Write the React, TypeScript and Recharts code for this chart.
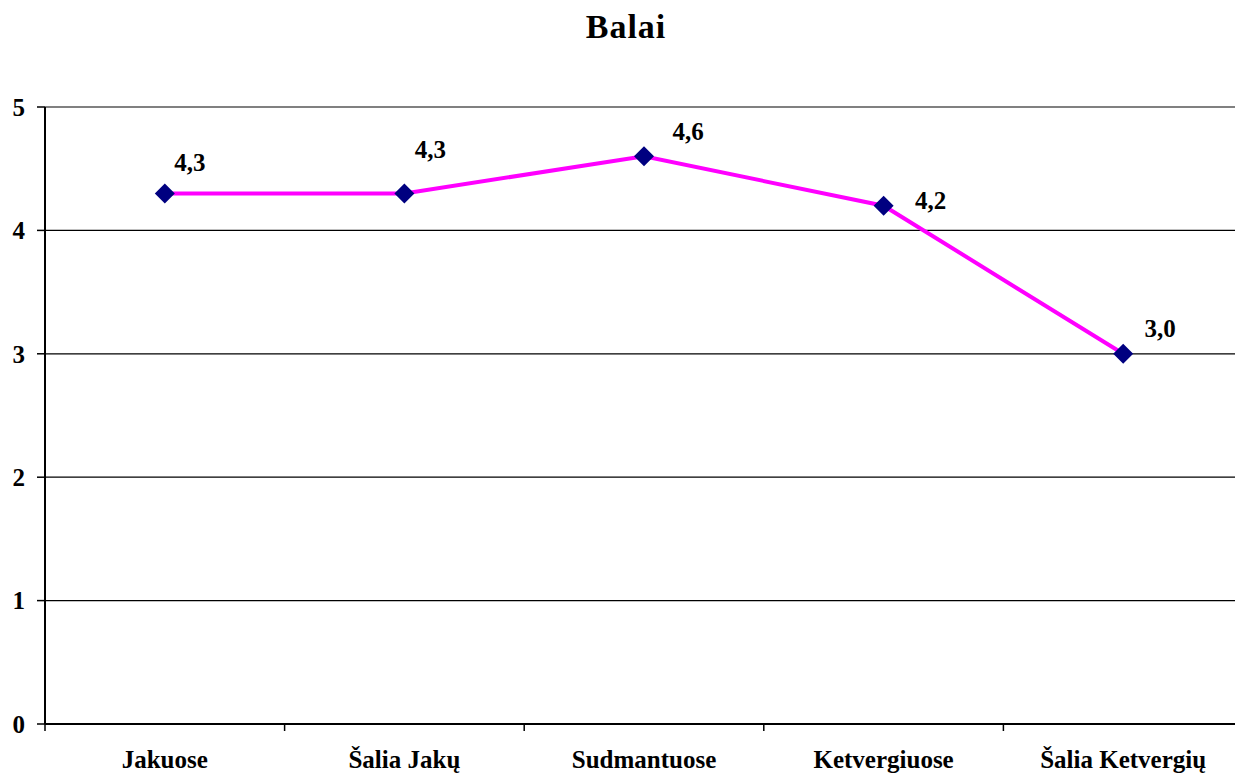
import React from "react";
import { LineChart, Line, XAxis, YAxis, CartesianGrid, ReferenceLine, LabelList } from "recharts";

const categories = ["Jakuose", "Šalia Jakų", "Sudmantuose", "Ketvergiuose", "Šalia Ketvergių"];
const scores = [4.3, 4.3, 4.6, 4.2, 3.0];
const yTicks = [0, 1, 2, 3, 4, 5];
const title = "Balai";

// label offsets (style only)
const labelOffsets = [
  [25, -31],
  [26, -44],
  [44, -25],
  [47, -6],
  [37, -26],
];

const data = categories.map((c, i) => ({ name: c, value: scores[i] }));

const FONT = "'Liberation Serif', 'Times New Roman', serif";
const CHART_W = 1250;
const PLOT_L = 45;
const PLOT_R = 1243;
const BAND = (PLOT_R - PLOT_L) / categories.length;

const CatTick = (props: any) => {
  const { x, y, payload } = props;
  return (
    <g>
      <line x1={x - BAND / 2} y1={y - 8} x2={x - BAND / 2} y2={y - 1} stroke="#000" strokeWidth={1.5} />
      <text x={x} y={y + 36} textAnchor="middle" fontFamily={FONT} fontWeight="bold" fontSize={25} fill="#000">
        {payload.value}
      </text>
    </g>
  );
};

const Diamond = (props: any) => {
  const { cx, cy } = props;
  if (cx == null || cy == null) return null;
  const r = 10;
  return <polygon points={`${cx},${cy - r} ${cx + r},${cy} ${cx},${cy + r} ${cx - r},${cy}`} fill="#000080" />;
};

const ValueLabel = (props: any) => {
  const { x, y, value, index } = props;
  const [dx, dy] = labelOffsets[index] || [0, -20];
  return (
    <text x={x + dx} y={y + dy} dy={9} textAnchor="middle" fontFamily={FONT} fontWeight="bold" fontSize={25} fill="#000">
      {Number(value).toFixed(1).replace(".", ",")}
    </text>
  );
};

export default function App() {
  return (
    <div style={{ position: "fixed", left: 0, top: 0, width: 1235, height: 775, overflow: "hidden", background: "#fff" }}>
      <div
        style={{
          position: "absolute",
          left: 0,
          width: 1252,
          top: 7,
          textAlign: "center",
          fontFamily: FONT,
          fontWeight: "bold",
          fontSize: 34,
          lineHeight: "40px",
          letterSpacing: 1,
          color: "#000",
        }}
      >
        {title}
      </div>
      <LineChart width={CHART_W} height={775} data={data} margin={{ top: 107, right: CHART_W - PLOT_R, bottom: 0, left: 0 }}>
        <CartesianGrid vertical={false} stroke="#000" strokeWidth={1.2} />
        <ReferenceLine y={5} stroke="#808080" strokeWidth={2} />
        <XAxis
          dataKey="name"
          type="category"
          scale="band"
          height={51}
          axisLine={{ stroke: "#000", strokeWidth: 2 }}
          tickLine={false}
          tick={<CatTick />}
          interval={0}
        />
        <YAxis
          domain={[0, 5]}
          ticks={yTicks}
          width={PLOT_L}
          axisLine={{ stroke: "#000", strokeWidth: 2 }}
          tickLine={{ stroke: "#000", strokeWidth: 1.5 }}
          tickSize={8}
          tickMargin={12}
          tick={{ fontFamily: FONT, fontWeight: "bold", fontSize: 25, fill: "#000" }}
        />
        <Line
          dataKey="value"
          stroke="#FF00FF"
          strokeWidth={4}
          dot={<Diamond />}
          activeDot={false}
          isAnimationActive={false}
        >
          <LabelList dataKey="value" content={<ValueLabel />} />
        </Line>
      </LineChart>
    </div>
  );
}
